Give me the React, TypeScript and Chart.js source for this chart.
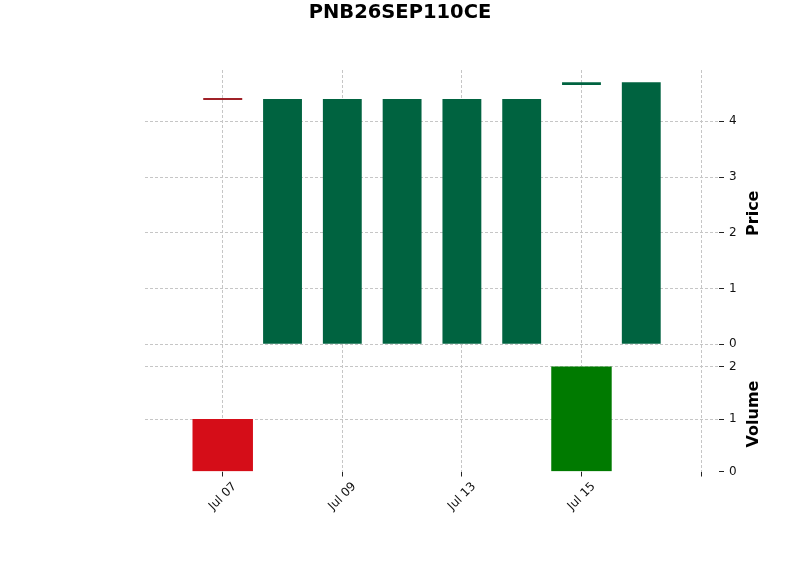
import React, { useEffect, useRef } from 'react';
import { Chart, registerables } from 'chart.js';

Chart.register(...registerables);

// ---- data ----
const TITLE = 'PNB26SEP110CE';
const dates = ['Jul 07', 'Jul 08', 'Jul 09', 'Jul 10', 'Jul 13', 'Jul 14', 'Jul 15', 'Jul 16'];
const opens = [4.4, 0, 0, 0, 0, 0, 4.65, 0];
const closes = [4.4, 4.4, 4.4, 4.4, 4.4, 4.4, 4.7, 4.7];
const volumes = [1, 0, 0, 0, 0, 0, 2, 0];

const xTickPositions = [0, 2, 4, 6, 8];
const priceTicks = [0, 1, 2, 3, 4];
const volumeTicks = [0, 1, 2];
const xRange = [-1.3, 8.3];
const priceRange = [-0.22, 4.92];
const volumeRange = [0, 2.2];

// ---- styles ----
const UP = '#006340';
const DOWN = '#A02128';
const VOL_UP = '#007a00';
const VOL_DOWN = '#d50d18';
const GRID = '#c6c6c6';
const FONT = '"DejaVu Sans", sans-serif';

const isUp = (i: number) => opens[i] < closes[i];

const textPlugin = {
  id: 'figureTexts',
  afterDraw(chart: any) {
    const ctx = chart.ctx;
    ctx.save();
    ctx.fillStyle = '#000';
    ctx.textAlign = 'center';
    ctx.textBaseline = 'alphabetic';
    ctx.font = `bold 19.5px ${FONT}`;
    ctx.fillText(TITLE, chart.width / 2, 17.5);
    ctx.font = `bold 16px ${FONT}`;
    const titles: [string, string][] = [['price', 'Price'], ['volume', 'Volume']];
    for (const [id, label] of titles) {
      const s = chart.scales[id];
      ctx.save();
      ctx.translate(s.left + 38.5, (s.top + s.bottom) / 2);
      ctx.rotate(-Math.PI / 2);
      ctx.fillText(label, 0, 0);
      ctx.restore();
    }
    ctx.restore();
  },
};

const makeGrid = (hideZero: boolean) => ({
  color: (c: any) => (hideZero && c.tick && c.tick.value === 0 ? 'rgba(0,0,0,0)' : GRID),
  lineWidth: 1,
  drawTicks: true,
  tickLength: 5,
  tickColor: '#222',
  tickWidth: 1,
  tickBorderDash: [],
  offset: false,
});

const border = { display: false, dash: [3, 2] };
const tickFont = { family: FONT, size: 12 };

export default function App() {
  const ref = useRef<HTMLCanvasElement | null>(null);

  useEffect(() => {
    if (!ref.current) return;
    const idx = dates.map((_, i) => i);
    const dojiIdx = idx.filter((i) => opens[i] === closes[i]);
    const chart = new Chart(ref.current, {
      type: 'bar',
      data: {
        datasets: [
          {
            type: 'scatter',
            label: 'doji',
            yAxisID: 'price',
            xAxisID: 'x',
            order: 1,
            data: dojiIdx.map((i) => ({ x: i, y: closes[i] })),
            pointStyle: 'line',
            pointRadius: 19.5,
            pointHoverRadius: 19.5,
            borderColor: dojiIdx.map((i) => (isUp(i) ? UP : DOWN)),
            backgroundColor: dojiIdx.map((i) => (isUp(i) ? UP : DOWN)),
            borderWidth: 2,
            showLine: false,
          } as any,
          {
            type: 'bar',
            label: 'body',
            yAxisID: 'price',
            xAxisID: 'x',
            order: 2,
            grouped: false,
            data: idx.map((i) => ({ x: i, y: [opens[i], closes[i]] })),
            backgroundColor: idx.map((i) => (isUp(i) ? UP : DOWN)),
            borderWidth: 0,
            barPercentage: 0.65,
            categoryPercentage: 1,
          } as any,
          {
            type: 'bar',
            label: 'volume',
            yAxisID: 'volume',
            xAxisID: 'x',
            order: 4,
            grouped: false,
            data: idx.map((i) => ({ x: i, y: volumes[i] === 0 ? null : volumes[i] })),
            backgroundColor: idx.map((i) => (isUp(i) ? VOL_UP : VOL_DOWN)),
            borderWidth: 0,
            barPercentage: 1,
            categoryPercentage: 1,
          } as any,
        ],
      },
      options: {
        animation: false,
        responsive: false,
        maintainAspectRatio: false,
        events: [],
        layout: { padding: { left: 145, top: 70, right: 0, bottom: 0 } },
        plugins: { legend: { display: false }, tooltip: { enabled: false }, title: { display: false } },
        scales: {
          x: {
            type: 'linear',
            position: 'bottom',
            min: xRange[0],
            max: xRange[1],
            offset: false,
            border,
            grid: makeGrid(false) as any,
            afterBuildTicks: (s: any) => {
              s.ticks = xTickPositions.map((v) => ({ value: v }));
            },
            afterFit: (s: any) => {
              s.height = 103.5;
            },
            ticks: {
              autoSkip: false,
              minRotation: 45,
              maxRotation: 45,
              padding: 3,
              labelOffset: 12,
              color: '#111',
              font: tickFont,
              callback: (v: any) => dates[Number(v)] ?? '',
            },
          },
          price: {
            type: 'linear',
            position: 'right',
            stack: 'panels',
            stackWeight: 286.5,
            min: priceRange[0],
            max: priceRange[1],
            border,
            grid: makeGrid(false) as any,
            afterBuildTicks: (s: any) => {
              s.ticks = priceTicks.map((v) => ({ value: v }));
            },
            afterFit: (s: any) => {
              s.width = 81;
            },
            ticks: { padding: 5, color: '#111', font: tickFont, callback: (v: any) => String(v) },
          },
          volume: {
            type: 'linear',
            position: 'right',
            stack: 'panels',
            stackWeight: 115,
            min: volumeRange[0],
            max: volumeRange[1],
            border,
            grid: makeGrid(true) as any,
            afterBuildTicks: (s: any) => {
              s.ticks = volumeTicks.map((v) => ({ value: v }));
            },
            afterFit: (s: any) => {
              s.width = 81;
            },
            ticks: { padding: 5, color: '#111', font: tickFont, callback: (v: any) => String(v) },
          },
        },
      } as any,
      plugins: [textPlugin],
    });
    return () => chart.destroy();
  }, []);

  return (
    <div style={{ position: 'fixed', left: 0, top: 0, width: 800, height: 575, background: '#fff' }}>
      <canvas ref={ref} width={800} height={575} style={{ display: 'block', width: 800, height: 575 }} />
    </div>
  );
}
